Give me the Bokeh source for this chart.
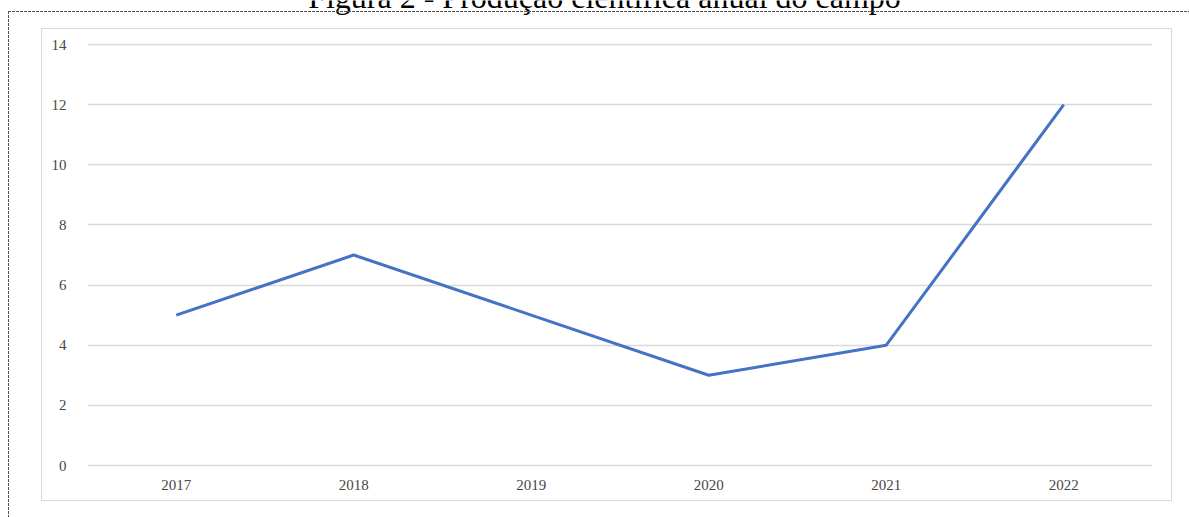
from bokeh.plotting import figure
from bokeh.models import Range1d, FixedTicker, Label, FactorRange, InlineStyleSheet
from bokeh.embed import file_html
from bokeh.resources import INLINE

# Data
years = ["2017", "2018", "2019", "2020", "2021", "2022"]
counts = [5, 7, 5, 3, 4, 12]
y_ticks = [0, 2, 4, 6, 8, 10, 12, 14]
title_text = "Figura 2 - Produção científica anual do campo"

W, H = 1189, 517
# pixel layout of the plotting area (value 0 at y=465, value 14 at y=44)
y0_px, y14_px = 465, 44
ppu = (y0_px - y14_px) / 14.0
y_start = -1.0 / ppu                 # frame bottom 1px below the 0 line
y_end = 14 + y14_px / ppu            # frame extends to the top of canvas

p = figure(
    width=W, height=H,
    x_range=FactorRange(*years),
    y_range=Range1d(y_start, y_end),
    output_backend="svg",
    toolbar_location=None,
    title=None,
    margin=(0, 0, 0, 0),
    min_border_left=87, min_border_right=37,
    min_border_top=0, min_border_bottom=H - (y0_px + 1),
)
p.outline_line_color = None
p.background_fill_color = "white"
p.border_fill_color = "white"

p.xgrid.grid_line_color = None
p.ygrid.grid_line_color = "#d9d9d9"
p.ygrid.grid_line_width = 1.3

p.yaxis.ticker = FixedTicker(ticks=y_ticks)
for ax in (p.xaxis[0], p.yaxis[0]):
    ax.axis_line_color = None
    ax.major_tick_line_color = None
    ax.minor_tick_line_color = None
    ax.major_label_text_font = "Liberation Serif"
    ax.major_label_text_font_size = "15px"
    ax.major_label_text_color = "#474747"
p.yaxis.major_label_standoff = 15
p.xaxis.major_label_standoff = 7

p.line(x=years, y=counts, line_color="#4472C4", line_width=3, line_join="round")

p.add_layout(Label(x=604, y=-4, x_units="canvas", y_units="canvas",
                   text=title_text, text_align="center", text_baseline="alphabetic",
                   text_font="Liberation Serif", text_font_size="32px",
                   text_color="black"))

css = """
:host { position: relative; }
:host::before {
  content: ""; position: absolute; left: 8px; top: 11px; right: 0; bottom: 0;
  pointer-events: none; z-index: 20;
  background:
    repeating-linear-gradient(to right, #555 0 3px, transparent 3px 4px) left top / 100% 1px no-repeat,
    repeating-linear-gradient(to bottom, #555 0 3px, transparent 3px 4px) left top / 1px 100% no-repeat;
}
:host::after {
  content: ""; position: absolute; left: 41px; top: 28px; width: 1131px; height: 473px;
  box-sizing: border-box; border: 1.5px solid #d9d9d9;
  pointer-events: none; z-index: 20;
}
"""
p.stylesheets = [InlineStyleSheet(css=css)]

open("out.html", "w").write(file_html(p, INLINE))
